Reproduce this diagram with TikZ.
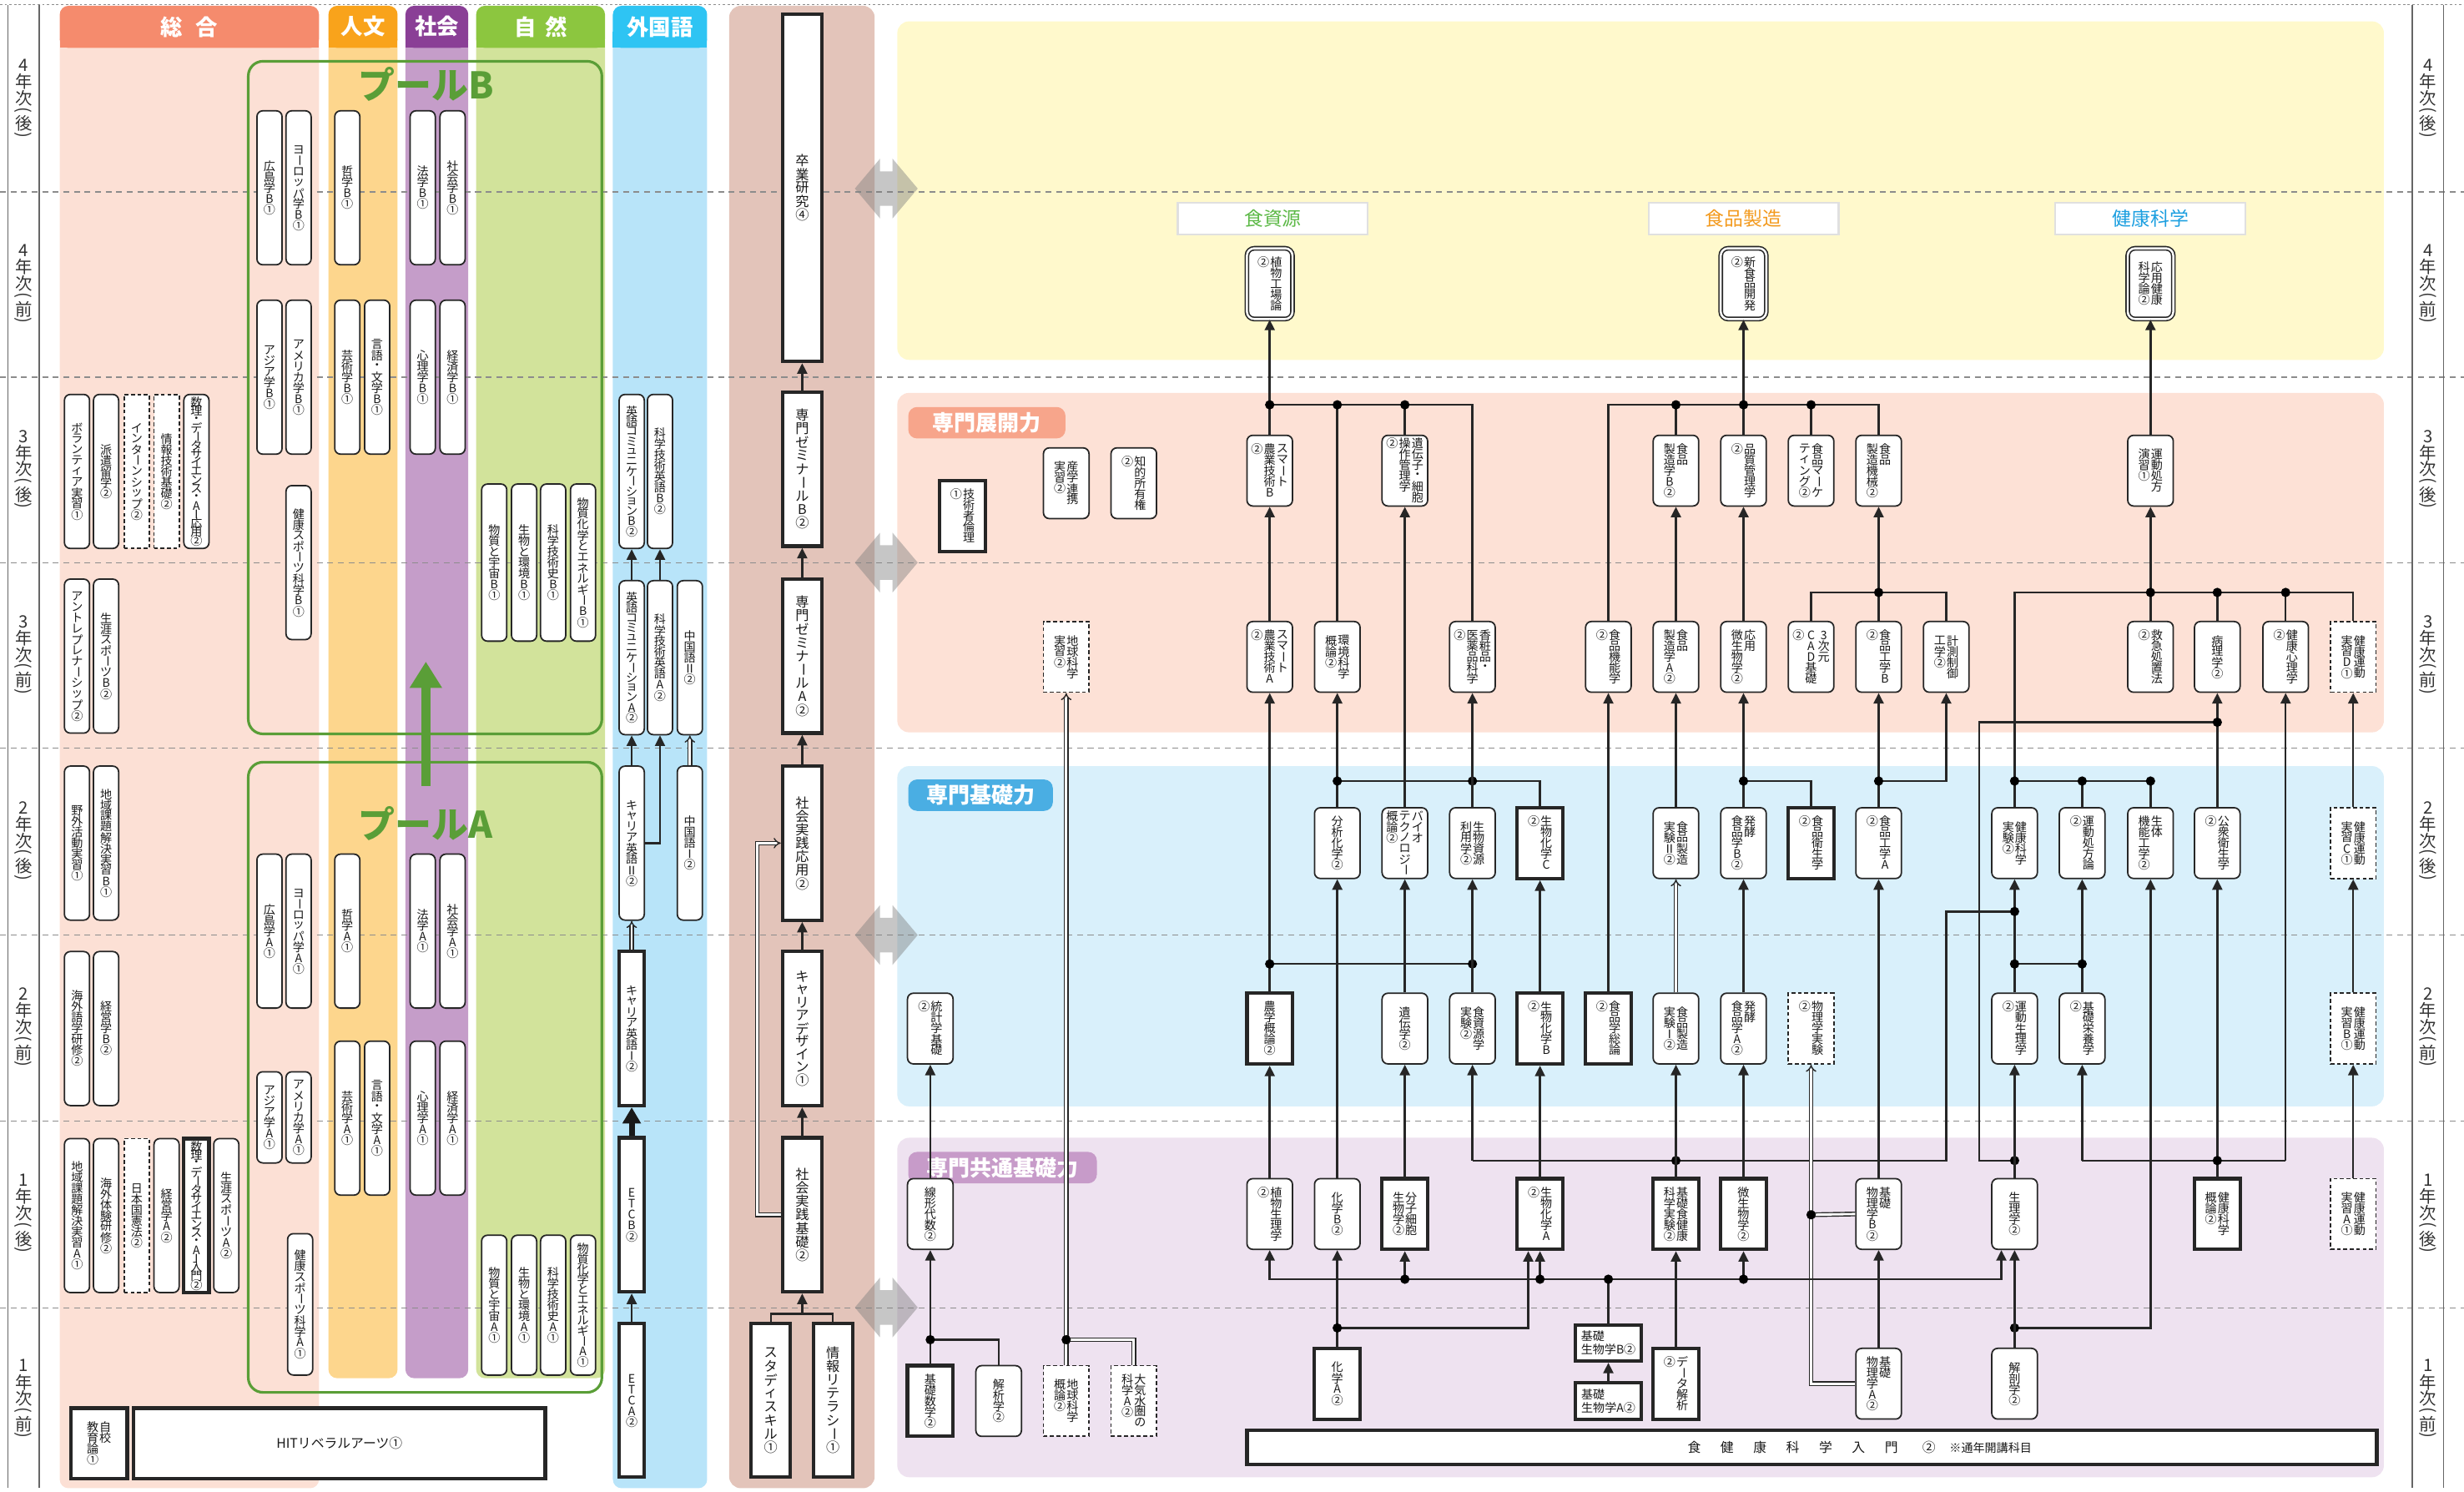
\documentclass[tikz,border=0pt]{standalone}
\usepackage{fontspec}
\usepackage{graphicx}
\usetikzlibrary{arrows.meta}
\newfontfamily\jp{Noto Sans CJK JP}
\definecolor{sogoH}{HTML}{F58B6D}
\definecolor{sogoB}{HTML}{FCE0D5}
\definecolor{jinH}{HTML}{F9A31B}
\definecolor{jinB}{HTML}{FDD68D}
\definecolor{shaH}{HTML}{8A3F96}
\definecolor{shaB}{HTML}{C59DC9}
\definecolor{shiH}{HTML}{8CC63F}
\definecolor{shiB}{HTML}{D2E39B}
\definecolor{gaiH}{HTML}{2EC4F3}
\definecolor{gaiB}{HTML}{B8E4F9}
\definecolor{ctrB}{HTML}{E3C4BA}
\definecolor{yelB}{HTML}{FFF9CC}
\definecolor{pnkB}{HTML}{FDE1D6}
\definecolor{bluB}{HTML}{D9F0FB}
\definecolor{purB}{HTML}{EEE2F0}
\definecolor{tenL}{HTML}{F7A58B}
\definecolor{kisL}{HTML}{4AAEE3}
\definecolor{kyoL}{HTML}{C79BC9}
\definecolor{poolG}{HTML}{5A9E37}
\definecolor{tShigen}{HTML}{5DB947}
\definecolor{tSeizo}{HTML}{F39A1E}
\definecolor{tKenko}{HTML}{1C9FE0}
\newlength\px
\setlength\px{0.018833cm}
\newlength\vp
\setlength\vp{3.7pt}
\newcommand\vch[1]{\ifx#1ー\vbox to\vp{\vss\hbox to1em{\hss\rotatebox[origin=c]{-90}{ー}\hss}\vss}\else\ifx#1(\vbox to.55\vp{\vss\hbox to1em{\hss\rotatebox[origin=c]{-90}{(}\hss}\vss}\else\ifx#1)\vbox to.55\vp{\vss\hbox to1em{\hss\rotatebox[origin=c]{-90}{)}\hss}\vss}\else\vbox to\vp{\vss\hbox to1em{\hss#1\hss}\vss}\fi\fi\fi}
\def\vloop#1{\ifx#1\relax\else\vch{#1}\expandafter\vloop\fi}
\newcommand\vcol[1]{\vtop{\offinterlineskip\vloop#1\relax}}
\def\vtA#1|#2\relax{\ifx\relax#2\relax\vcol{#1}\else\vtA#2\relax\kern.08em\vcol{#1}\fi}
\newcommand\vt[2][3.7pt]{\setlength\vp{#1}\hbox{\vtA#2|\relax}}
\newcommand\gp{\hspace{6.7pt}}
\tikzset{
crs/.style={draw=black!85, fill=white, rounded corners=2pt, line width=0.5pt, inner sep=0pt, text=black!90, font=\jp\fontsize{4}{4}\selectfont},
crsb/.style={crs, rounded corners=0pt, line width=1.2pt},
crsd/.style={crs, rounded corners=0pt, dash pattern=on 1.3pt off 0.9pt},
crsw/.style={crs, rounded corners=2.5pt, line width=0.45pt, double=white, double distance=0.7pt},
lbox/.style={minimum width=16*\px, minimum height=98*\px},
rbox/.style={minimum width=29*\px, minimum height=45*\px},
cbox/.style={minimum width=25*\px, minimum height=98*\px, font=\jp\fontsize{4.6}{4.6}\selectfont},
hrz/.style={minimum width=42*\px, minimum height=23*\px, align=left, font=\jp\fontsize{4}{4.6}\selectfont},
hdr/.style={text=white, inner sep=0pt, font=\jp\bfseries\fontsize{7.5}{7.5}\selectfont},
plab/.style={rounded corners=3pt, minimum height=20*\px, inner sep=0pt, text=white, font=\jp\bfseries\fontsize{7.4}{7.4}\selectfont},
trk/.style={fill=white, draw=black!12, line width=0.6pt, minimum width=121*\px, minimum height=20*\px, inner sep=0pt, font=\jp\fontsize{6.5}{6.5}\selectfont},
axl/.style={inner sep=0pt, text=black!80, font=\jp\fontsize{5.8}{5.8}\selectfont},
pooltxt/.style={inner sep=0pt, text=poolG, font=\jp\bfseries\fontsize{12.5}{12.5}\selectfont},
pool/.style={draw=poolG, line width=0.9pt, rounded corners=5pt},
rowln/.style={draw=black!45, line width=0.35pt, dash pattern=on 2pt off 1.6pt},
axis/.style={draw=black!60, line width=0.4pt},
garw/.style={fill=black!50, fill opacity=0.45},
ln/.style={draw=black!85, line width=0.7pt},
ar/.style={ln, -{Triangle[length=3.6pt,width=3.4pt]}},
dl/.style={draw=black!85, line width=0.4pt, double=white, double distance=0.8pt},
dar/.style={dl, -{Implies}},
big/.style={draw=black!90, line width=2pt, -{Triangle[length=5.5pt,width=6pt]}},
garr/.style={draw=poolG, line width=3.2pt, -{Triangle[length=9pt,width=10.5pt]}}
}
\begin{document}
\begin{tikzpicture}[x=0.018833cm, y=-0.018833cm]
\useasboundingbox (0,0) rectangle (1568,949);
\fill[sogoB, rounded corners=3pt] (38,20) rectangle (203,947);
\fill[sogoH, rounded corners=3pt] (38,3.7) rectangle (203,30.5);
\fill[sogoH] (38,20) rectangle (203,30.5);
\fill[jinB, rounded corners=3pt] (209,20) rectangle (253,877);
\fill[jinH, rounded corners=3pt] (209,3.7) rectangle (253,30.5);
\fill[jinH] (209,20) rectangle (253,30.5);
\fill[shaB, rounded corners=3pt] (258,20) rectangle (298,877);
\fill[shaH, rounded corners=3pt] (258,3.7) rectangle (298,30.5);
\fill[shaH] (258,20) rectangle (298,30.5);
\fill[shiB, rounded corners=3pt] (303,20) rectangle (385,877);
\fill[shiH, rounded corners=3pt] (303,3.7) rectangle (385,30.5);
\fill[shiH] (303,20) rectangle (385,30.5);
\fill[gaiB, rounded corners=3pt] (390,20) rectangle (450,947);
\fill[gaiH, rounded corners=3pt] (390,3.7) rectangle (450,30.5);
\fill[gaiH] (390,20) rectangle (450,30.5);
\fill[ctrB, rounded corners=4pt] (464,3.7) rectangle (556.6,947);
\fill[yelB, rounded corners=4pt] (571,13.6) rectangle (1517,229);
\fill[pnkB, rounded corners=4pt] (571,250) rectangle (1517,466);
\fill[bluB, rounded corners=4pt] (571,487.5) rectangle (1517,704);
\fill[purB, rounded corners=4pt] (571,724) rectangle (1517,940);
\draw[rowln, dash pattern=on 0.8pt off 0.8pt] (0,3) -- (1568,3);
\draw[rowln] (0,122.1) -- (1568,122.1);
\draw[rowln] (0,240) -- (1568,240);
\draw[rowln] (0,358) -- (1568,358);
\draw[rowln] (0,476) -- (1568,476);
\draw[rowln] (0,594.8) -- (1568,594.8);
\draw[rowln] (0,713.2) -- (1568,713.2);
\draw[rowln] (0,832.2) -- (1568,832.2);
\draw[axis] (5,3) -- (5,947);
\draw[axis] (25,3) -- (25,947);
\draw[axis] (1535,3) -- (1535,947);
\draw[axis] (1555,3) -- (1555,947);
\fill[garw] (544,120) -- ++(16,-19) -- ++(0,8) -- ++(8,0) -- ++(0,-8) -- ++(16,19) -- ++(-16,19) -- ++(0,-8) -- ++(-8,0) -- ++(0,8) -- cycle;
\fill[garw] (544,358) -- ++(16,-19) -- ++(0,8) -- ++(8,0) -- ++(0,-8) -- ++(16,19) -- ++(-16,19) -- ++(0,-8) -- ++(-8,0) -- ++(0,8) -- cycle;
\fill[garw] (544,595) -- ++(16,-19) -- ++(0,8) -- ++(8,0) -- ++(0,-8) -- ++(16,19) -- ++(-16,19) -- ++(0,-8) -- ++(-8,0) -- ++(0,8) -- cycle;
\fill[garw] (544,832) -- ++(16,-19) -- ++(0,8) -- ++(8,0) -- ++(0,-8) -- ++(16,19) -- ++(-16,19) -- ++(0,-8) -- ++(-8,0) -- ++(0,8) -- cycle;
\draw[pool] (158,39) rectangle (383,467);
\draw[pool] (158,485) rectangle (383,886);
\node[pooltxt] (poolB) at (271,53.5) {プールB};
\node[pooltxt] (poolA) at (271,524) {プールA};
\coordinate (poolAtop) at (271,500);
\coordinate (poolBbot) at (271,421);
\draw[garr] (poolAtop) -- (poolBbot);
\node[hdr] (hSogo) at (120.5,17) {総\hspace{0.6em}合};
\node[hdr] (hJin) at (231,17) {人文};
\node[hdr] (hSha) at (278,17) {社会};
\node[hdr] (hShi) at (344,17) {自\hspace{0.4em}然};
\node[hdr] (hGai) at (420,17) {外国語};
\node[axl] (l4b) at (15,63) {\vt[5.6pt]{4年次(後)}};
\node[axl] (l4a) at (15,181) {\vt[5.6pt]{4年次(前)}};
\node[axl] (l3b) at (15,299) {\vt[5.6pt]{3年次(後)}};
\node[axl] (l3a) at (15,417) {\vt[5.6pt]{3年次(前)}};
\node[axl] (l2b) at (15,535.5) {\vt[5.6pt]{2年次(後)}};
\node[axl] (l2a) at (15,654) {\vt[5.6pt]{2年次(前)}};
\node[axl] (l1b) at (15,772.5) {\vt[5.6pt]{1年次(後)}};
\node[axl] (l1a) at (15,890.5) {\vt[5.6pt]{1年次(前)}};
\node[axl] (r4b) at (1545,63) {\vt[5.6pt]{4年次(後)}};
\node[axl] (r4a) at (1545,181) {\vt[5.6pt]{4年次(前)}};
\node[axl] (r3b) at (1545,299) {\vt[5.6pt]{3年次(後)}};
\node[axl] (r3a) at (1545,417) {\vt[5.6pt]{3年次(前)}};
\node[axl] (r2b) at (1545,535.5) {\vt[5.6pt]{2年次(後)}};
\node[axl] (r2a) at (1545,654) {\vt[5.6pt]{2年次(前)}};
\node[axl] (r1b) at (1545,772.5) {\vt[5.6pt]{1年次(後)}};
\node[axl] (r1a) at (1545,890.5) {\vt[5.6pt]{1年次(前)}};
\node[plab, fill=tenL, minimum width=100*\px] (lTenkai) at (628,269) {専門展開力};
\node[plab, fill=kisL, minimum width=92*\px] (lKiso) at (624,506) {専門基礎力};
\node[plab, fill=kyoL, minimum width=120*\px] (lKyotsu) at (638,743) {専門共通基礎力};
\node[trk, text=tShigen] (tShigenL) at (810,139) {食資源};
\node[trk, text=tSeizo] (tSeizoL) at (1109.5,139) {食品製造};
\node[trk, text=tKenko] (tKenkoL) at (1368.5,139) {健康科学};
\node[crs,lbox] (volun) at (49,300) {\vt{ボランティア実習①}};
\node[crs,lbox] (haken) at (67.5,300) {\vt{派遣留学②}};
\node[crsd,lbox] (intern) at (87,300) {\vt{インターンシップ②}};
\node[crsd,lbox] (johogi) at (106,300) {\vt{情報技術基礎②}};
\node[crs,lbox] (suriO) at (125,300) {\vt[2.95pt]{数理・データサイエンス・AI応用②}};
\node[crs,lbox] (entre) at (49,417.5) {\vt{アントレプレナーシップ②}};
\node[crs,lbox] (shogaiB) at (67.5,417.5) {\vt{生涯スポーツB②}};
\node[crs,lbox] (yagai) at (49,536.5) {\vt{野外活動実習①}};
\node[crs,lbox] (chiikiB) at (67.5,536.5) {\vt{地域課題解決実習B①}};
\node[crs,lbox] (kaigaiG) at (49,654.5) {\vt{海外語学研修②}};
\node[crs,lbox] (keieiB) at (67.5,654.5) {\vt{経営学B②}};
\node[crs,lbox] (chiikiA) at (49,773.5) {\vt{地域課題解決実習A①}};
\node[crs,lbox] (kaigaiT) at (67.5,773.5) {\vt{海外体験研修②}};
\node[crsd,lbox] (kenpo) at (87,773.5) {\vt{日本国憲法②}};
\node[crs,lbox] (keieiA) at (106,773.5) {\vt{経営学A②}};
\node[crsb,lbox] (suriN) at (125,773.5) {\vt[2.95pt]{数理・データサイエンス・AI入門②}};
\node[crs,lbox] (shogaiA) at (144,773.5) {\vt{生涯スポーツA②}};
\node[crsb, minimum width=36*\px, minimum height=45*\px] (jiko) at (63,918.5) {\vt{自校|教育論①}};
\node[crsb, minimum width=262*\px, minimum height=45*\px, font=\jp\fontsize{4.5}{4.5}\selectfont] (hit) at (216,918.5) {HITリベラルアーツ①};
\node[crs,lbox] (hiroB) at (171.5,119.5) {\vt{広島学B①}};
\node[crs,lbox] (euroB) at (190,119.5) {\vt{ヨーロッパ学B①}};
\node[crs,lbox] (tetsuB) at (221,119.5) {\vt{哲学B①}};
\node[crs,lbox] (hoB) at (269,119.5) {\vt{法学B①}};
\node[crs,lbox] (shakaiB) at (288,119.5) {\vt{社会学B①}};
\node[crs,lbox] (asiaB) at (171.5,240) {\vt{アジア学B①}};
\node[crs,lbox] (ameB) at (190,240) {\vt{アメリカ学B①}};
\node[crs,lbox] (geiB) at (221,240) {\vt{芸術学B①}};
\node[crs,lbox] (gengoB) at (240,240) {\vt{言語・文学B①}};
\node[crs,lbox] (shinB) at (269,240) {\vt{心理学B①}};
\node[crs,lbox] (keizaiB) at (288,240) {\vt{経済学B①}};
\node[crs,lbox] (kensupoB) at (190,358) {\vt{健康スポーツ科学B①}};
\node[crs,lbox,minimum height=100*\px] (uchuB) at (314.5,358) {\vt{物質と宇宙B①}};
\node[crs,lbox,minimum height=100*\px] (kankyoB) at (333.5,358) {\vt{生物と環境B①}};
\node[crs,lbox,minimum height=100*\px] (kagishiB) at (352,358) {\vt{科学技術史B①}};
\node[crs,lbox,minimum height=100*\px] (enerB) at (371,358) {\vt{物質化学とエネルギーB①}};
\node[crs,lbox] (hiroA) at (171.5,592.5) {\vt{広島学A①}};
\node[crs,lbox] (euroA) at (190,592.5) {\vt{ヨーロッパ学A①}};
\node[crs,lbox] (tetsuA) at (221,592.5) {\vt{哲学A①}};
\node[crs,lbox] (hoA) at (269,592.5) {\vt{法学A①}};
\node[crs,lbox] (shakaiA) at (288,592.5) {\vt{社会学A①}};
\node[crs,lbox,minimum height=58*\px] (asiaA) at (171.5,711) {\vt{アジア学A①}};
\node[crs,lbox,minimum height=58*\px] (ameA) at (190,711) {\vt{アメリカ学A①}};
\node[crs,lbox] (geiA) at (221,711.5) {\vt{芸術学A①}};
\node[crs,lbox] (gengoA) at (240,711.5) {\vt{言語・文学A①}};
\node[crs,lbox] (shinA) at (269,711.5) {\vt{心理学A①}};
\node[crs,lbox] (keizaiA) at (288,711.5) {\vt{経済学A①}};
\node[crs,lbox,minimum height=90*\px] (kensupoA) at (191,830) {\vt{健康スポーツ科学A①}};
\node[crs,lbox,minimum height=89*\px] (uchuA) at (314.5,830.5) {\vt{物質と宇宙A①}};
\node[crs,lbox,minimum height=89*\px] (kankyoA) at (333.5,830.5) {\vt{生物と環境A①}};
\node[crs,lbox,minimum height=89*\px] (kagishiA) at (352,830.5) {\vt{科学技術史A①}};
\node[crs,lbox,minimum height=89*\px] (enerA) at (371,830.5) {\vt[3.5pt]{物質化学とエネルギーA①}};
\node[crs,lbox] (eiB) at (402,300) {\vt[3.4pt]{英語コミュニケーションB②}};
\node[crs,lbox] (kagieiB) at (420,300) {\vt{科学技術英語B②}};
\node[crs,lbox] (eiA) at (402,418.5) {\vt[3.4pt]{英語コミュニケーションA②}};
\node[crs,lbox] (kagieiA) at (420,418.5) {\vt{科学技術英語A②}};
\node[crs,lbox] (chu2) at (439,418.5) {\vt{中国語Ⅱ②}};
\node[crs,lbox] (careerE2) at (402,536.5) {\vt{キャリア英語Ⅱ②}};
\node[crs,lbox] (chu1) at (439,536.5) {\vt{中国語Ⅰ②}};
\node[crsb,lbox] (careerE1) at (402,654.5) {\vt{キャリア英語Ⅰ②}};
\node[crsb,lbox] (etcB) at (402,773) {\vt{ETCB②}};
\node[crsb,lbox] (etcA) at (402,891) {\vt{ETCA②}};
\node[crsb,cbox,minimum height=221*\px] (sotsu) at (510.5,119.5) {\vt[4.6pt]{卒業研究④}};
\node[crsb,cbox] (zemiB) at (510.5,298.5) {\vt[4.6pt]{専門ゼミナールB②}};
\node[crsb,cbox] (zemiA) at (510.5,417.5) {\vt[4.6pt]{専門ゼミナールA②}};
\node[crsb,cbox] (shakaiO) at (510.5,536.5) {\vt[4.6pt]{社会実践応用②}};
\node[crsb,cbox] (careerD) at (510.5,654.5) {\vt[4.4pt]{キャリアデザイン①}};
\node[crsb,cbox] (shakaiK) at (510.5,773) {\vt[4.6pt]{社会実践基礎②}};
\node[crsb,cbox] (study) at (490.5,891) {\vt[4.6pt]{スタディスキル①}};
\node[crsb,cbox] (info) at (530,891) {\vt[4.6pt]{情報リテラシー①}};
\node[crsb,rbox] (gijutsu) at (612.5,328.5) {\vt{技術者倫理|①}};
\node[crs,rbox] (sangaku) at (678.5,307.5) {\vt{産学連携|実習②}};
\node[crs,rbox] (chiteki) at (721.5,307.5) {\vt{知的所有権|②}};
\node[crsd,rbox] (chikyuJ) at (678.5,418) {\vt{地球科学|実習②}};
\node[crs,rbox] (tokei) at (592,654.5) {\vt{統計学基礎|②}};
\node[crs,rbox] (senkei) at (592,772.5) {\vt{線形代数②}};
\node[crsb,rbox] (kisosugaku) at (592,891.5) {\vt{基礎数学②}};
\node[crs,rbox] (kaiseki) at (635.5,891.5) {\vt{解析学②}};
\node[crsd,rbox] (chikyuG) at (678.5,891.5) {\vt{地球科学|概論②}};
\node[crsd,rbox] (taiki) at (721.5,891.5) {\vt{大気水圏の|科学A②}};
\node[crsw,rbox] (shokubutsu) at (808,180.5) {\vt{植物工場論|②}};
\node[crs,rbox] (smartB) at (808,299.5) {\vt{スマート|農業技術B|②}};
\node[crs,rbox] (smartA) at (808,418) {\vt{スマート|農業技術A|②}};
\node[crsb,rbox] (nogaku) at (808,654.5) {\vt{農学概論②}};
\node[crs,rbox] (shokuseiri) at (808,772.5) {\vt{植物生理学|②}};
\node[crs,rbox] (kankyo) at (851,418) {\vt{環境科学|概論②}};
\node[crs,rbox] (bunseki) at (851,536.5) {\vt{分析化学②}};
\node[crs,rbox] (kagakuB) at (851,772.5) {\vt{化学B②}};
\node[crsb,rbox] (kagakuA) at (851,880.5) {\vt{化学A②}};
\node[crs,rbox] (idenshi) at (894,299.5) {\vt{遺伝子・細胞|操作管理学|②}};
\node[crs,rbox] (bio) at (894,536.5) {\vt{バイオ|テクノロジー|概論②}};
\node[crs,rbox] (iden) at (894,654.5) {\vt{遺伝学②}};
\node[crsb,rbox] (bunshi) at (894,772.5) {\vt{分子細胞|生物学②}};
\node[crs,rbox] (kosho) at (937,418) {\vt{香粧品・|医薬品科学|②}};
\node[crs,rbox] (seibutsu) at (937,536.5) {\vt{生物資源|利用学②}};
\node[crs,rbox] (shokushigen) at (937,654.5) {\vt{食資源学|実験②}};
\node[crsb,rbox] (seikaC) at (980,536.5) {\vt{生物化学C|②}};
\node[crsb,rbox] (seikaB) at (980,654.5) {\vt{生物化学B|②}};
\node[crsb,rbox] (seikaA) at (980,772.5) {\vt{生物化学A|②}};
\node[crs,rbox] (kino) at (1023.5,418) {\vt{食品機能学|②}};
\node[crsb,rbox] (soron) at (1023.5,654.5) {\vt{食品学総論|②}};
\node[crsb,hrz] (kisoB) at (1023.5,854.5) {基礎\\生物学B②};
\node[crsb,hrz] (kisoA) at (1023.5,891.5) {基礎\\生物学A②};
\node[crs,rbox] (seizoB) at (1066.5,299.5) {\vt{食品|製造学B②}};
\node[crs,rbox] (seizoA) at (1066.5,418) {\vt{食品|製造学A②}};
\node[crs,rbox] (jikken2) at (1066.5,536.5) {\vt{食品製造|実験Ⅱ②}};
\node[crs,rbox] (jikken1) at (1066.5,654.5) {\vt{食品製造|実験Ⅰ②}};
\node[crsb,rbox] (kisoshoku) at (1066.5,772.5) {\vt{基礎食健康|科学実験②}};
\node[crsb,rbox] (data) at (1066.5,880.5) {\vt{データ解析|②}};
\node[crsw,rbox] (shinshoku) at (1109.5,180.5) {\vt{新食品開発|②}};
\node[crs,rbox] (hinshitsu) at (1109.5,299.5) {\vt{品質管理学|②}};
\node[crs,rbox] (oyobi) at (1109.5,418) {\vt{応用|微生物学②}};
\node[crs,rbox] (hakkoB) at (1109.5,536.5) {\vt{発酵|食品学B②}};
\node[crs,rbox] (hakkoA) at (1109.5,654.5) {\vt{発酵|食品学A②}};
\node[crsb,rbox] (biseibutsu) at (1109.5,772.5) {\vt{微生物学②}};
\node[crs,rbox] (marke) at (1152.5,299.5) {\vt{食品マーケ|ティング②}};
\node[crs,rbox] (cad) at (1152.5,418) {\vt{3次元|CAD基礎|②}};
\node[crsb,rbox] (eisei) at (1152.5,536.5) {\vt{食品衛生学|②}};
\node[crsd,rbox] (butsuri) at (1152.5,654.5) {\vt{物理学実験|②}};
\node[crs,rbox] (kikai) at (1195.5,299.5) {\vt{食品|製造機械②}};
\node[crs,rbox] (kogakuB) at (1195.5,418) {\vt{食品工学B|②}};
\node[crs,rbox] (kogakuA) at (1195.5,536.5) {\vt{食品工学A|②}};
\node[crs,rbox] (kbutsuB) at (1195.5,772.5) {\vt{基礎|物理学B②}};
\node[crs,rbox] (kbutsuA) at (1195.5,880.5) {\vt{基礎|物理学A②}};
\node[crs,rbox] (keisoku) at (1238.5,418) {\vt{計測制御|工学②}};
\node[crs,rbox] (kenkoJ) at (1282,536.5) {\vt{健康科学|実験②}};
\node[crs,rbox] (undoseiri) at (1282,654.5) {\vt{運動生理学|②}};
\node[crs,rbox] (seiri) at (1282,772.5) {\vt{生理学②}};
\node[crs,rbox] (kaibo) at (1282,880.5) {\vt{解剖学②}};
\node[crs,rbox] (shohoron) at (1325,536.5) {\vt{運動処方論|②}};
\node[crs,rbox] (eiyo) at (1325,654.5) {\vt{基礎栄養学|②}};
\node[crsw,rbox] (oyokenko) at (1368.5,180.5) {\vt{応用健康|科学論②}};
\node[crs,rbox] (enshu) at (1368.5,299.5) {\vt{運動処方|演習①}};
\node[crs,rbox] (kyukyu) at (1368.5,418) {\vt{救急処置法|②}};
\node[crs,rbox] (seitai) at (1368.5,536.5) {\vt{生体|機能工学②}};
\node[crs,rbox] (byori) at (1411,418) {\vt{病理学②}};
\node[crs,rbox] (koshu) at (1411,536.5) {\vt{公衆衛生学|②}};
\node[crsb,rbox] (gairon) at (1411,772.5) {\vt{健康科学|概論②}};
\node[crs,rbox] (shinri) at (1454.5,418) {\vt{健康心理学|②}};
\node[crsd,rbox] (undoD) at (1497.5,418) {\vt{健康運動|実習D①}};
\node[crsd,rbox] (undoC) at (1497.5,536.5) {\vt{健康運動|実習C①}};
\node[crsd,rbox] (undoB) at (1497.5,654.5) {\vt{健康運動|実習B①}};
\node[crsd,rbox] (undoA) at (1497.5,772.5) {\vt{健康運動|実習A①}};
\node[crsb, minimum width=719*\px, minimum height=22*\px, font=\jp\fontsize{4.5}{4.5}\selectfont] (nyumon) at (1153,921) {\hspace{32.6pt}食\gp 健\gp 康\gp 科\gp 学\gp 入\gp 門\hspace{8.3pt}②\hspace{4.8pt}{\fontsize{4}{4}\selectfont ※通年開講科目}};
\coordinate (j257) at (0,257.6);
\coordinate (j377) at (0,377);
\coordinate (j460) at (0,459.6);
\coordinate (j497) at (0,497);
\coordinate (j580) at (0,580);
\coordinate (j613) at (0,613.4);
\coordinate (j738) at (0,738.5);
\coordinate (j773) at (0,773);
\coordinate (j814) at (0,814);
\coordinate (j836) at (0,836);
\coordinate (j845) at (0,845);
\coordinate (j852) at (0,852.5);
\coordinate (x1260) at (1259.6,0);
\draw[ar] (eiA.north) -- (eiB.south);
\draw[ar] (kagieiA.north) -- (kagieiB.south);
\draw[ar] (careerE2.north) -- (eiA.south);
\draw[ar] (careerE2.east) -| (kagieiA.south);
\draw[dar] (chu1.north) -- (chu2.south);
\draw[dar] (careerE1.north) -- (careerE2.south);
\draw[big] (etcB.north) -- (careerE1.south);
\draw[ar] (etcA.north) -- (etcB.south);
\draw[ar] (zemiB.north) -- (sotsu.south);
\draw[ar] (zemiA.north) -- (zemiB.south);
\draw[ar] (shakaiO.north) -- (zemiA.south);
\draw[ar] (careerD.north) -- (shakaiO.south);
\draw[ar] (shakaiK.north) -- (careerD.south);
\draw[ln] (study.north) |- (info.north |- j836) -- (info.north);
\draw[ar] (shakaiK.south |- j836) -- (shakaiK.south);
\draw[dar] (shakaiK.west) -- ++(-15,0) |- (shakaiO.west);
\draw[ar] (smartB.north) -- (shokubutsu.south);
\draw[ln] (kankyo.north) -- (kankyo.north |- j257);
\draw[ln] (idenshi.north) -- (idenshi.north |- j257);
\draw[ln] (smartB.north |- j257) -| (kosho.north);
\fill (smartB.north |- j257) circle (1.6pt);
\fill (kankyo.north |- j257) circle (1.6pt);
\fill (idenshi.north |- j257) circle (1.6pt);
\draw[ln] (kino.north) |- (kikai.north |- j257) -- (kikai.north);
\draw[ln] (seizoB.north) -- (seizoB.north |- j257);
\draw[ln] (marke.north) -- (marke.north |- j257);
\draw[ar] (hinshitsu.north) -- (shinshoku.south);
\fill (seizoB.north |- j257) circle (1.6pt);
\fill (hinshitsu.north |- j257) circle (1.6pt);
\fill (marke.north |- j257) circle (1.6pt);
\draw[ar] (enshu.north) -- (oyokenko.south);
\draw[ar] (smartA.north) -- (smartB.south);
\draw[ar] (seizoA.north) -- (seizoB.south);
\draw[ar] (oyobi.north) -- (hinshitsu.south);
\draw[ln] (cad.north) |- (keisoku.north |- j377) -- (keisoku.north);
\draw[ar] (kogakuB.north) -- (kikai.south);
\fill (kogakuB.north |- j377) circle (1.6pt);
\draw[ln] (kenkoJ.north) |- (undoD.north |- j377) -- (undoD.north);
\draw[ar] (kyukyu.north) -- (enshu.south);
\draw[ln] (byori.north) -- (byori.north |- j377);
\draw[ln] (shinri.north) -- (shinri.north |- j377);
\fill (kyukyu.north |- j377) circle (1.6pt);
\fill (byori.north |- j377) circle (1.6pt);
\fill (shinri.north |- j377) circle (1.6pt);
\draw[ar] (nogaku.north) -- (smartA.south);
\draw[ln] (nogaku.north |- j613) -- (shokushigen.north |- j613);
\fill (nogaku.north |- j613) circle (1.6pt);
\fill (shokushigen.north |- j613) circle (1.6pt);
\draw[ar] (bunseki.north) -- (kankyo.south);
\draw[ln] (bunseki.north |- j497) -| (seikaC.north);
\fill (bunseki.north |- j497) circle (1.6pt);
\fill (seibutsu.north |- j497) circle (1.6pt);
\draw[ar] (seibutsu.north) -- (kosho.south);
\draw[ar] (bio.north) -- (idenshi.south);
\draw[ar] (soron.north) -- (kino.south);
\draw[ar] (jikken2.north) -- (seizoA.south);
\draw[ar] (hakkoB.north) -- (oyobi.south);
\draw[ln] (hakkoB.north |- j497) -| (eisei.north);
\fill (hakkoB.north |- j497) circle (1.6pt);
\draw[ar] (kogakuA.north) -- (kogakuB.south);
\draw[ar] (kogakuA.north |- j497) -| (keisoku.south);
\fill (kogakuA.north |- j497) circle (1.6pt);
\draw[ar] (koshu.north) -- (byori.south);
\draw[ln] (seiri.north) -- (seiri.north |- j738) -- (x1260 |- j738) |- (byori.south |- j460);
\fill (seiri.north |- j738) circle (1.6pt);
\fill (byori.south |- j460) circle (1.6pt);
\draw[ar] (shinri.south |- j738) -- (shinri.south);
\draw[ln] (eiyo.south |- j738) -- (shinri.south |- j738);
\draw[ar] (eiyo.south |- j738) -- (eiyo.south);
\draw[ar] (gairon.north) -- (koshu.south);
\fill (gairon.north |- j738) circle (1.6pt);
\draw[ar] (undoC.north) -- (undoD.south);
\draw[ar] (kagakuB.north) -- (bunseki.south);
\draw[ar] (iden.north) -- (bio.south);
\draw[ar] (shokushigen.north) -- (seibutsu.south);
\draw[ar] (seikaB.north) -- (seikaC.south);
\draw[dar] (jikken1.north) -- (jikken2.south);
\draw[ar] (hakkoA.north) -- (hakkoB.south);
\draw[ar] (kbutsuB.north) -- (kogakuA.south);
\draw[ar] (undoseiri.north) -- (kenkoJ.south);
\draw[ar] (eiyo.north) -- (shohoron.south);
\draw[ln] (undoseiri.north |- j613) -- (eiyo.north |- j613);
\fill (undoseiri.north |- j613) circle (1.6pt);
\fill (eiyo.north |- j613) circle (1.6pt);
\draw[ln] (kenkoJ.north |- j497) -| (seitai.north);
\draw[ln] (shohoron.north) -- (shohoron.north |- j497);
\fill (kenkoJ.north |- j497) circle (1.6pt);
\fill (shohoron.north |- j497) circle (1.6pt);
\fill (seitai.north |- j497) circle (1.6pt);
\draw[ar] (shokushigen.south |- j738) -- (shokushigen.south);
\draw[ln] (shokushigen.south |- j738) -- (keisoku.south |- j738) |- (undoseiri.north |- j580);
\fill (kisoshoku.north |- j738) circle (1.6pt);
\fill (undoseiri.north |- j580) circle (1.6pt);
\draw[ar] (kaibo.north |- j845) -| (seitai.south);
\fill (kaibo.north |- j845) circle (1.6pt);
\draw[ar] (undoB.north) -- (undoC.south);
\draw[ar] (kaibo.north) -- (seiri.south);
\draw[ar] (shokuseiri.north) -- (nogaku.south);
\draw[ar] (bunshi.north) -- (iden.south);
\draw[ar] (seikaA.north) -- (seikaB.south);
\draw[ar] (kisoshoku.north) -- (jikken1.south);
\draw[ar] (biseibutsu.north) -- (hakkoA.south);
\draw[dar] (kbutsuA.west) -| (butsuri.south);
\draw[dl] (butsuri.south |- j773) -- (kbutsuB.west);
\fill (butsuri.south |- j773) circle (1.6pt);
\draw[ar] (seiri.north) -- (undoseiri.south);
\draw[ar] (undoA.north) -- (undoB.south);
\draw[ar] (senkei.north) -- (tokei.south);
\draw[ln] (kisoB.north) -- (kisoB.north |- j814);
\draw[ar] (kisoB.north |- j814) -| (shokuseiri.south);
\draw[ar] (kisoB.north |- j814) -| ([xshift=-4.5pt]seiri.south);
\draw[ar] (bunshi.south |- j814) -- (bunshi.south);
\draw[ar] (seikaA.south |- j814) -- (seikaA.south);
\draw[ar] (biseibutsu.south |- j814) -- (biseibutsu.south);
\fill (bunshi.south |- j814) circle (1.6pt);
\fill (seikaA.south |- j814) circle (1.6pt);
\fill (kisoB.north |- j814) circle (1.6pt);
\fill (biseibutsu.south |- j814) circle (1.6pt);
\draw[ar] (kagakuA.north) -- (kagakuB.south);
\draw[ar] (kagakuA.north |- j845) -| ([xshift=-4pt]seikaA.south);
\fill (kagakuA.north |- j845) circle (1.6pt);
\draw[ar] (data.north) -- (kisoshoku.south);
\draw[ar] (kbutsuA.north) -- (kbutsuB.south);
\draw[ar] (kisoA.north) -- (kisoB.south);
\draw[ar] (kisosugaku.north) -- (senkei.south);
\draw[ln] (kisosugaku.north |- j852) -| (kaiseki.north);
\fill (kisosugaku.north |- j852) circle (1.6pt);
\draw[dar] (chikyuG.north) -- (chikyuJ.south);
\draw[dl] (chikyuG.north |- j852) -| (taiki.north);
\fill (chikyuG.north |- j852) circle (1.6pt);
\end{tikzpicture}
\end{document}
